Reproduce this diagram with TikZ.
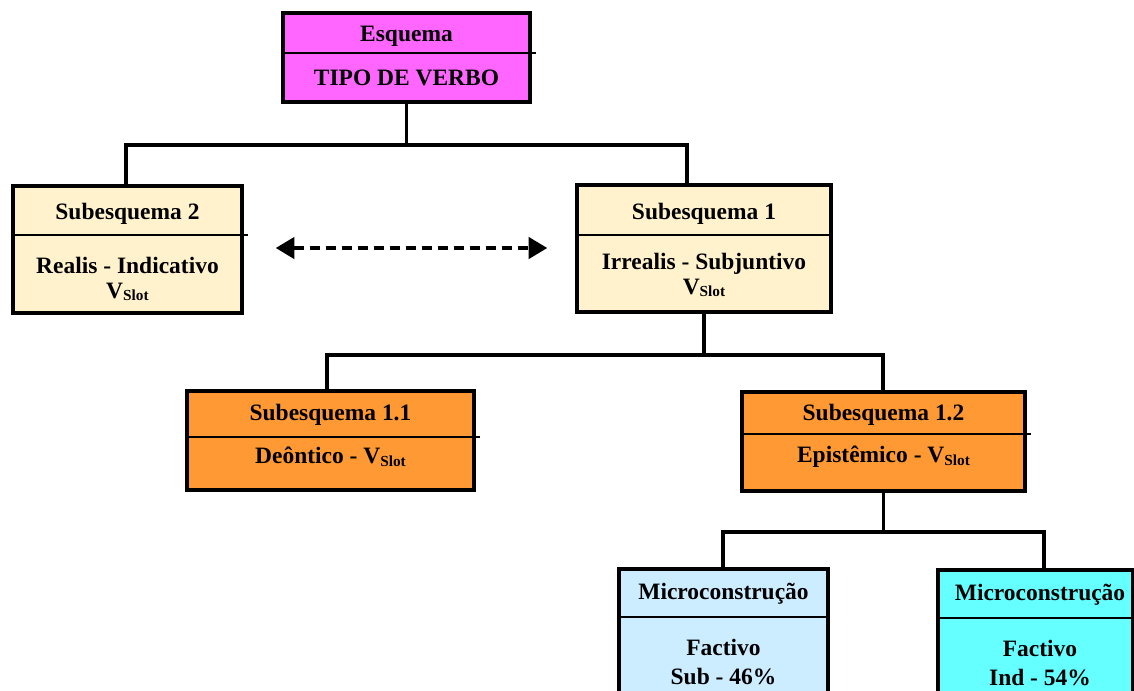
\documentclass[tikz,border=0pt]{standalone}
\usepackage{fontspec}
\setmainfont{Liberation Serif}
\usetikzlibrary{arrows.meta}
\definecolor{magbox}{RGB}{255,102,255}
\definecolor{yelbox}{RGB}{255,242,204}
\definecolor{orgbox}{RGB}{255,153,51}
\definecolor{bluebox}{RGB}{204,236,255}
\definecolor{cyanbox}{RGB}{102,255,255}
\newcommand{\vslot}{V\raisebox{-2pt}{\fontsize{11.5}{12}\selectfont Slot}}
\begin{document}
\begin{tikzpicture}[x=0.75pt,y=-0.75pt,
  box/.style={draw=black, line width=2.6pt, inner sep=0pt},
  sz/.style 2 args={minimum width={#1*0.75pt}, minimum height={#2*0.75pt}},
  lbl/.style={font=\fontsize{17.6}{18.5}\selectfont\bfseries, align=center, inner sep=0pt},
  divider/.style={draw=black, line width=1.2pt},
  conn/.style={draw=black, line width=2.3pt},
  darr/.style={draw=black, line width=2.6pt, dash pattern=on 7.5pt off 4.5pt,
     {Triangle[length=14pt,width=16pt]}-{Triangle[length=14pt,width=16pt]}}
]
\clip (0,0) rectangle (1134,690);
\fill[white] (0,0) rectangle (1134,690);

% boxes
\node[box, fill=magbox, sz={247}{89}] (esq) at (406.5,57.5) {};
\node[box, fill=yelbox, sz={229}{127}] (sub2) at (127.5,249.5) {};
\node[box, fill=yelbox, sz={254}{127}] (sub1) at (704,248.5) {};
\node[box, fill=orgbox, sz={287}{99}] (s11) at (330.5,440.5) {};
\node[box, fill=orgbox, sz={283}{99}] (s12) at (883.5,441.5) {};
\node[box, fill=bluebox, sz={209}{151}] (mL) at (723.5,644.5) {};
\node[box, fill=cyanbox, sz={195}{150}] (mR) at (1035.5,645) {};

% dividers
\draw[divider] (esq.west |- 0,53) -- ([xshift=3pt]esq.east |- 0,53);
\draw[divider] (sub2.west |- 0,235) -- ([xshift=3pt]sub2.east |- 0,235);
\draw[divider] (sub1.west |- 0,235) -- (sub1.east |- 0,235);
\draw[divider] (s11.west |- 0,437) -- ([xshift=3pt]s11.east |- 0,437);
\draw[divider] (s12.west |- 0,434) -- ([xshift=3pt]s12.east |- 0,434);
\draw[divider] (mL.west |- 0,617) -- (mL.east |- 0,617);
\draw[divider] (mR.west |- 0,618) -- (mR.east |- 0,618);

% texts
\node[lbl] (esqA) at (406.5,36.5) {Esquema};
\node[lbl] (esqB) at (406.5,78) {TIPO DE VERBO};
\node[lbl] (sub2A) at (127.5,213.5) {Subesquema 2};
\node[lbl] (sub2B) at (127.5,279) {Realis - Indicativo\\\vslot};
\node[lbl] (sub1A) at (704,213.5) {Subesquema 1};
\node[lbl] (sub1B) at (704,275) {Irrealis - Subjuntivo\\\vslot};
\node[lbl] (s11A) at (330.5,414.5) {Subesquema 1.1};
\node[lbl] (s11B) at (330.5,457) {Deôntico - \vslot};
\node[lbl] (s12A) at (883.5,414.5) {Subesquema 1.2};
\node[lbl] (s12B) at (883.5,457) {Epistêmico - \vslot};
\node[lbl] (mLA) at (723.5,593.5) {Microconstrução};
\node[lbl, font=\fontsize{17.6}{21.5}\selectfont\bfseries] (mLB) at (723.5,662) {Factivo\\Sub - 46\%};
\node[lbl] (mRA) at (1040,594.5) {Microconstrução};
\node[lbl, font=\fontsize{17.6}{21.5}\selectfont\bfseries] (mRB) at (1040,663) {Factivo\\Ind - 54\%};

% connectors
\coordinate (b1L) at (126,145);
\coordinate (b1R) at (687,145);
\coordinate (b2L) at (327,355);
\coordinate (b2R) at (883,355);
\coordinate (b3L) at (723,532);
\coordinate (b3R) at (1044,532);
\draw[conn] (esq.south) -- (esq.south |- b1L);
\draw[conn] (b1L |- sub2.north) -- (b1L) -- (b1R) -- (b1R |- sub1.north);
\draw[conn] (sub1.south) -- (sub1.south |- b2L);
\draw[conn] (b2L |- s11.north) -- (b2L) -- (b2R) -- (b2R |- s12.north);
\draw[conn] (s12.south) -- (s12.south |- b3L);
\draw[conn] (b3L |- mL.north) -- (b3L) -- (b3R) -- (b3R |- mR.north);

% dashed double arrow
\draw[darr, shorten <=24pt, shorten >=21pt] (sub2.east |- 0,248) -- (sub1.west |- 0,248);
\end{tikzpicture}
\end{document}
